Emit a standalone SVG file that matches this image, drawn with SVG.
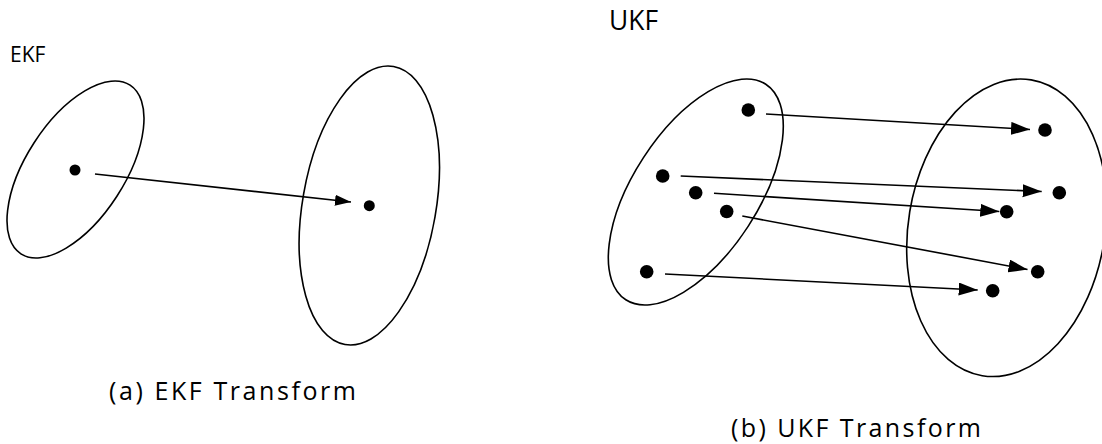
<svg xmlns="http://www.w3.org/2000/svg" width="1102" height="444" viewBox="0 0 1102 444">
<style>
.ell{fill:none;stroke:#000;stroke-width:1.6}
.dot{fill:#000}
.con{fill:none;stroke:#000;stroke-width:1.6}
.lbl{font-family:"Open Sans","Noto Sans","DejaVu Sans",sans-serif;fill:#000}
</style>
<defs>
<marker id="ah1" markerUnits="userSpaceOnUse" markerWidth="17" markerHeight="12" refX="16" refY="5.5" orient="auto"><path d="M0,0 L16,5.5 L0,11 Z" fill="#000"/></marker>
<marker id="ah2" markerUnits="userSpaceOnUse" markerWidth="20" markerHeight="14" refX="19" refY="6.5" orient="auto"><path d="M0,0 L19,6.5 L0,13 Z" fill="#000"/></marker>
</defs>
<rect width="1102" height="444" fill="#fff"/>
<g id="ekf-label"><text class="lbl" x="10" y="62" font-size="21">EKF</text></g>
<g id="ukf-label"><text class="lbl" x="609" y="30" font-size="27" textLength="49" lengthAdjust="spacingAndGlyphs">UKF</text></g>
<g id="ekf-source"><ellipse class="ell" cx="75.5" cy="169.5" rx="100.5" ry="49.3" transform="rotate(-57.1 75.5 169.5)"/><circle class="dot" cx="75" cy="170" r="5.5"/></g>
<g id="ekf-target"><ellipse class="ell" cx="369.3" cy="205.5" rx="66.7" ry="141.1" transform="rotate(9.9 369.3 205.5)"/><circle class="dot" cx="369.3" cy="205.7" r="5.5"/></g>
<g id="ukf-source"><ellipse class="ell" cx="695.8" cy="192" rx="128.5" ry="62.6" transform="rotate(-57 695.8 192)"/>
<circle class="dot" cx="748.3" cy="110" r="6.8"/><circle class="dot" cx="662.7" cy="176" r="6.8"/><circle class="dot" cx="695.7" cy="192.7" r="6.8"/><circle class="dot" cx="726.7" cy="211.5" r="6.8"/><circle class="dot" cx="646.7" cy="271.7" r="6.8"/></g>
<g id="ukf-target"><ellipse class="ell" cx="1006.7" cy="227.8" rx="98.3" ry="149.9" transform="rotate(9.4 1006.7 227.8)"/>
<circle class="dot" cx="1045" cy="130" r="6.8"/><circle class="dot" cx="1059.3" cy="192.7" r="6.8"/><circle class="dot" cx="1006.7" cy="211.7" r="6.8"/><circle class="dot" cx="1037.7" cy="271.7" r="6.8"/><circle class="dot" cx="992.7" cy="290.7" r="6.8"/></g>
<g id="connectors">
<line class="con" x1="95" y1="174" x2="351" y2="202" marker-end="url(#ah1)"/>
<line class="con" x1="766" y1="114" x2="1030" y2="129.5" marker-end="url(#ah2)"/>
<line class="con" x1="680.7" y1="176" x2="1041.7" y2="191.5" marker-end="url(#ah2)"/>
<line class="con" x1="714" y1="193.3" x2="999.3" y2="211.5" marker-end="url(#ah2)"/>
<line class="con" x1="742.3" y1="216" x2="1027.5" y2="269.5" marker-end="url(#ah2)"/>
<line class="con" x1="665" y1="274" x2="977.7" y2="290" marker-end="url(#ah2)"/>
</g>
<g id="caption-a"><text class="lbl" x="109" y="400" font-size="25" textLength="247" lengthAdjust="spacing">(a) EKF Transform</text></g>
<g id="caption-b"><text class="lbl" x="731" y="437" font-size="25" textLength="250" lengthAdjust="spacing">(b) UKF Transform</text></g>
</svg>
